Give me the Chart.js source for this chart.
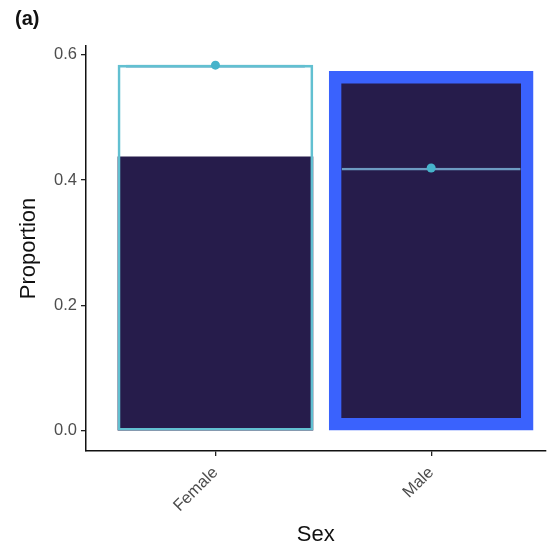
<!DOCTYPE html>
<html>
<head>
<meta charset="utf-8">
<script src="https://cdn.jsdelivr.net/npm/chart.js@4"></script>
<style>
  html, body { margin: 0; padding: 0; background: #fff; }
  #wrap { position: relative; width: 550px; height: 551px; }
  #tag { position: absolute; left: 15px; top: 7px; font: bold 20px "Liberation Sans", Arial, sans-serif; color: #111; }
</style>
</head>
<body>
<div id="wrap">
  <canvas id="chart" width="550" height="551"></canvas>
  <div id="tag">(a)</div>
</div>
<script>
// values
const categories = ['Female', 'Male'];
const meanProportion = [0.583, 0.419];     // point + mean line
const outlineHeight = [0.583, null];       // light outline bar (Female)
const femaleFill = [0.437, null];          // dark bar, Female
const maleFill = [null, 0.573];            // dark bar with blue highlight, Male
const yTicks = [0, 0.2, 0.4, 0.6];

const pts = arr => arr.map((v, i) => ({ x: i + 1, y: v }));
const font = '"Liberation Sans", Arial, sans-serif';

new Chart(document.getElementById('chart').getContext('2d'), {
    type: 'bar',
    data: {
        datasets: [
            {
                type: 'line',
                data: pts(meanProportion),
                showLine: false,
                pointRadius: 4.5,
                pointBackgroundColor: '#46b3cb',
                pointBorderWidth: 0,
                order: 0
            },
            {
                data: pts(outlineHeight),
                grouped: false,
                barThickness: 195,
                backgroundColor: 'rgba(0,0,0,0)',
                borderColor: '#62c0d1',
                borderWidth: 2,
                borderSkipped: false,
                order: 1
            },
            {
                data: pts(meanProportion),
                grouped: false,
                barThickness: 179,
                backgroundColor: 'rgba(0,0,0,0)',
                borderColor: '#6d9bc2',
                borderWidth: { top: 2, left: 0, right: 0, bottom: 0 },
                borderSkipped: false,
                order: 2
            },
            {
                data: pts(femaleFill),
                grouped: false,
                barThickness: 195,
                backgroundColor: '#261c4b',
                borderWidth: 0,
                order: 3
            },
            {
                data: pts(maleFill),
                grouped: false,
                barThickness: 204,
                backgroundColor: '#261c4b',
                borderColor: '#3a62fd',
                borderWidth: 12.5,
                borderSkipped: false,
                order: 4
            }
        ]
    },
    options: {
        responsive: false,
        animation: false,
        layout: { padding: { top: 46, right: 0, bottom: 0, left: 0 } },
        plugins: { legend: { display: false }, tooltip: { enabled: false } },
        scales: {
            x: {
                type: 'linear',
                offset: false,
                bounds: 'data',
                min: 0.4,
                max: 2.53,
                afterBuildTicks: s => { s.ticks = categories.map((c, i) => ({ value: i + 1 })); },
                afterFit: s => { s.height = 100; },
                ticks: {
                    callback: v => categories[v - 1],
                    minRotation: 45,
                    maxRotation: 45,
                    color: '#4d4d4d',
                    font: { family: font, size: 16.5 },
                    padding: 7
                },
                grid: { offset: false, drawOnChartArea: false, drawTicks: true, tickLength: 5, color: '#222', lineWidth: 1.3 },
                border: { display: true, color: '#111', width: 1.5 },
                title: { display: true, text: 'Sex', color: '#111', font: { family: font, size: 22 }, padding: { top: 0, bottom: 3 } }
            },
            y: {
                min: -0.032,
                max: 0.6135,
                afterBuildTicks: s => { s.ticks = yTicks.map(v => ({ value: v })); },
                afterFit: s => { s.width = 86; },
                ticks: {
                    callback: v => v.toFixed(1),
                    color: '#4d4d4d',
                    font: { family: font, size: 16.5 },
                    padding: 4
                },
                grid: { drawOnChartArea: false, drawTicks: true, tickLength: 5, color: '#222', lineWidth: 1.3 },
                border: { display: true, color: '#111', width: 1.5 },
                title: { display: true, text: 'Proportion', color: '#111', font: { family: font, size: 22 }, padding: { top: 16, bottom: 0 } }
            }
        }
    }
});
</script>
</body>
</html>
